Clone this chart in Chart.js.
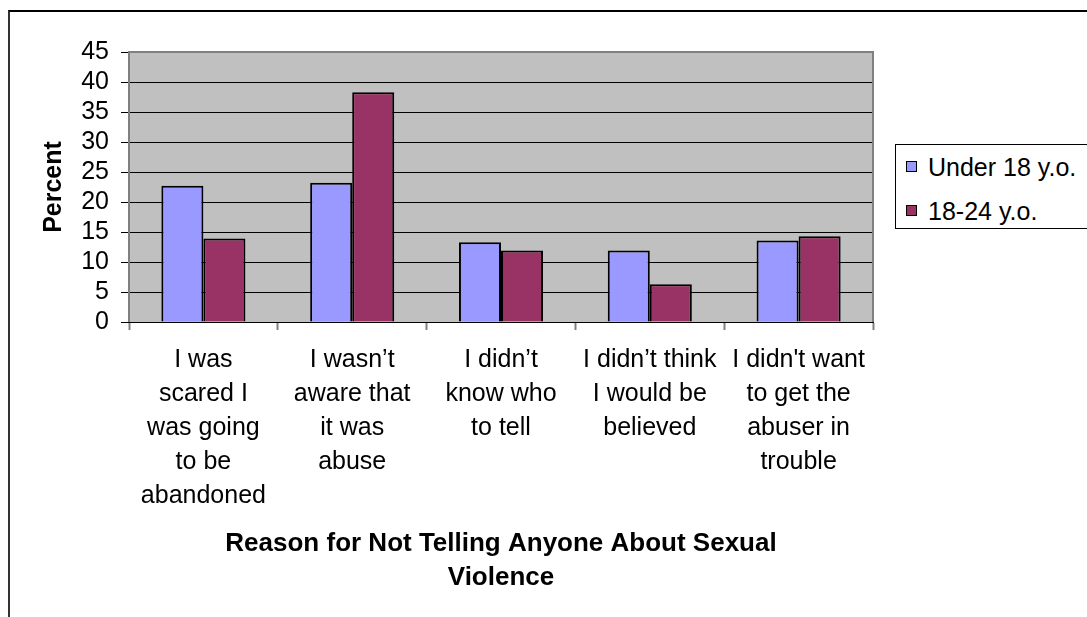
<!DOCTYPE html>
<html>
<head>
<meta charset="utf-8">
<script src="https://cdn.jsdelivr.net/npm/chart.js@4.4.1/dist/chart.umd.min.js"></script>
<style>
body { margin: 0; background: #fff; }
#wrap { position: relative; width: 1087px; height: 617px; overflow: hidden; }
#frame { position: absolute; left: 8px; top: 10px; width: 1100px; height: 700px;
	border-top: 2px solid #000; border-left: 2px solid #333; }
#legend { position: absolute; left: 895px; top: 144px; width: 220px; height: 83px;
	border: 1px solid #000; background: #fff; font-family: 'Liberation Sans', Arial, sans-serif; font-size: 25px; }
#legend div { position: absolute; left: 10px; height: 30px; line-height: 30px; white-space: nowrap; }
#legend span { display: inline-block; width: 9px; height: 9px; border: 1px solid #000; margin-right: 11px; vertical-align: 4px; }
canvas { position: absolute; left: 0; top: 0; }
</style>
</head>
<body>
<div id="wrap">
	<div id="frame"></div>
	<canvas id="canvas" width="1087" height="617"></canvas>
	<div id="legend"></div>
</div>
<script>
var categories = [
	["I was", "scared I", "was going", "to be", "abandoned"],
	["I wasn\u2019t", "aware that", "it was", "abuse"],
	["I didn\u2019t", "know who", "to tell"],
	["I didn\u2019t think", "I would be", "believed"],
	["I didn't want", "to get the", "abuser in", "trouble"]
];
var seriesNames = ["Under 18 y.o.", "18-24 y.o."];
var under18 = [22.7, 23.2, 13.3, 11.9, 13.6];
var age18to24 = [13.9, 38.3, 11.9, 6.3, 14.3];
var yTicks = [0, 5, 10, 15, 20, 25, 30, 35, 40, 45];
var colors = ["#9999FF", "#993366"];

var fontFamily = "'Liberation Sans', Arial, sans-serif";

// grey plot background + grey frame around plot area
var plotBg = {
	id: "plotBg",
	beforeDraw: function(chart) {
		var a = chart.chartArea, ctx = chart.ctx;
		ctx.save();
		ctx.fillStyle = "#C0C0C0";
		ctx.fillRect(a.left, a.top, a.right - a.left, a.bottom - a.top);
		ctx.restore();
	},
	beforeDatasetsDraw: function(chart) {
		var a = chart.chartArea, ctx = chart.ctx;
		ctx.save();
		ctx.strokeStyle = "#808080";
		ctx.lineWidth = 2;
		ctx.beginPath();
		ctx.moveTo(a.left, a.bottom);
		ctx.lineTo(a.left, a.top);
		ctx.lineTo(a.right, a.top);
		ctx.lineTo(a.right, a.bottom);
		ctx.stroke();
		ctx.restore();
	}
};

var datasets = [];
datasets[0] = { label: seriesNames[0], data: under18, backgroundColor: colors[0] };
datasets[1] = { label: seriesNames[1], data: age18to24, backgroundColor: colors[1] };
for (var i = 0; i < datasets.length; i++) {
	datasets[i].borderColor = "#000";
	datasets[i].borderWidth = 2;
	datasets[i].categoryPercentage = 0.565;
	datasets[i].barPercentage = 1.0;
}

var ctx = document.getElementById("canvas").getContext("2d");
window.myBar = new Chart(ctx, {
	type: "bar",
	data: { labels: categories, datasets: datasets },
	plugins: [plotBg],
	options: {
		responsive: false,
		animation: false,
		devicePixelRatio: 1,
		layout: { padding: { left: 0, top: 52, right: 214, bottom: 0 } },
		plugins: {
			legend: { display: false },
			title: { display: false },
			tooltip: { enabled: false }
		},
		scales: {
			x: {
				grid: {
					offset: true,
					drawOnChartArea: false,
					drawTicks: true,
					tickLength: 8,
					tickColor: "#808080",
					tickWidth: 2
				},
				border: { color: "#000", width: 1 },
				ticks: {
					color: "#000",
					font: { family: fontFamily, size: 25, lineHeight: 1.36 },
					padding: 13,
					maxRotation: 0,
					minRotation: 0,
					autoSkip: false
				},
				title: {
					display: true,
					text: ["Reason for Not Telling Anyone About Sexual", "Violence"],
					color: "#000",
					font: { family: fontFamily, size: 26, weight: "bold", lineHeight: 1.31 },
					padding: { top: 0, bottom: 22 }
				},
				afterFit: function(scale) { scale.height = 295; }
			},
			y: {
				min: 0,
				max: 45,
				afterBuildTicks: function(scale) {
					scale.ticks = yTicks.map(function(v) { return { value: v }; });
				},
				grid: {
					color: function(c) { return c.tick && c.tick.value === 45 ? "#808080" : "#000"; },
					lineWidth: 1,
					drawTicks: true,
					tickLength: 8,
					tickColor: "#000"
				},
				border: { display: false },
				ticks: {
					color: "#000",
					font: { family: fontFamily, size: 25 },
					padding: 12,
					autoSkip: false
				},
				title: {
					display: true,
					text: "Percent",
					color: "#000",
					font: { family: fontFamily, size: 25, weight: "bold", lineHeight: 1.2 },
					padding: { top: 39, bottom: 0 }
				},
				afterFit: function(scale) { scale.width = 129; }
			}
		}
	}
});

// legend drawn as html next to the chart
var legendBox = document.getElementById("legend");
var rowTops = [7, 51];
for (var j = 0; j < seriesNames.length; j++) {
	var row = document.createElement("div");
	row.style.top = rowTops[j] + "px";
	row.innerHTML = '<span style="background:' + colors[j] + '"></span>' + seriesNames[j];
	legendBox.appendChild(row);
}
</script>
</body>
</html>
